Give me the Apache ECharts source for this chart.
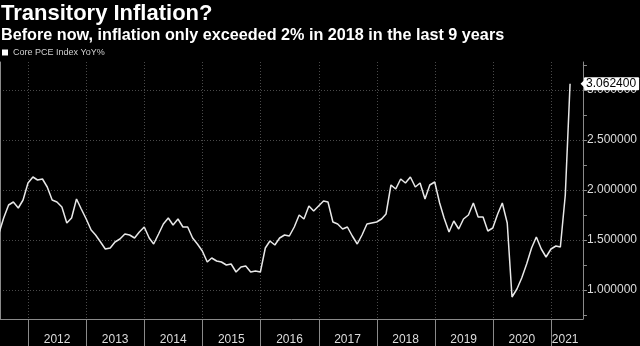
<!DOCTYPE html>
<html><head><meta charset="utf-8">
<script src="https://cdn.jsdelivr.net/npm/echarts@6/dist/echarts.min.js"></script>
<style>html,body{margin:0;padding:0;background:#000;}#c{width:640px;height:346px;}</style>
</head><body><div id="c"></div>
<script>
const titleText = 'Transitory Inflation?';
const subtitleText = 'Before now, inflation only exceeded 2% in 2018 in the last 9 years';
const seriesName = 'Core PCE Index YoY%';

// Monthly Core PCE YoY % (month-end observations)
const core2011 = [1.56, 1.72, 1.85, 1.88, 1.82, 1.90, 2.07];            // Jun–Dec
const core2012 = [2.13, 2.10, 2.11, 2.03, 1.90, 1.88, 1.83, 1.67, 1.72, 1.91, 1.81, 1.71];
const core2013 = [1.60, 1.55, 1.48, 1.41, 1.42, 1.48, 1.51, 1.56, 1.55, 1.52, 1.58, 1.63];
const core2014 = [1.52, 1.46, 1.56, 1.66, 1.72, 1.65, 1.71, 1.63, 1.63, 1.52, 1.46, 1.39];
const core2015 = [1.28, 1.32, 1.29, 1.28, 1.25, 1.26, 1.18, 1.23, 1.24, 1.18, 1.19, 1.18];
const core2016 = [1.42, 1.49, 1.45, 1.52, 1.55, 1.54, 1.63, 1.75, 1.71, 1.84, 1.79, 1.84];
const core2017 = [1.89, 1.88, 1.68, 1.66, 1.61, 1.63, 1.54, 1.46, 1.55, 1.66, 1.67, 1.68];
const core2018 = [1.71, 1.76, 2.05, 2.01, 2.11, 2.07, 2.13, 2.03, 2.07, 1.91, 2.05, 2.08];
const core2019 = [1.87, 1.72, 1.58, 1.69, 1.61, 1.71, 1.75, 1.87, 1.73, 1.73, 1.59, 1.62];
const core2020 = [1.76, 1.87, 1.67, 0.93, 1.01, 1.12, 1.26, 1.42, 1.53, 1.41, 1.33, 1.41];
const core2021 = [1.44, 1.43, 1.95, 3.0624];                              // Jan–Apr

const firstYear = 2011, firstMonth = 6;
const yearBoundaries = ['2012-01-01','2013-01-01','2014-01-01','2015-01-01','2016-01-01',
  '2017-01-01','2018-01-01','2019-01-01','2020-01-01','2021-01-01'];
const yearLabelAt = ['2012-07-01','2013-07-01','2014-07-01','2015-07-01','2016-07-01',
  '2017-07-01','2018-07-01','2019-07-01','2020-07-01','2021-03-30'];
const yMinorTicks = [0.75, 1.0, 1.25, 1.5, 1.75, 2.0, 2.25, 2.5, 2.75, 3.0, 3.25];
const xMin = '2011-07-08', xMax = '2021-07-20';
const yMin = 0.71, yMax = 3.28;

const toTs = s => Date.UTC(+s.slice(0, 4), +s.slice(5, 7) - 1, +s.slice(8, 10));
const allValues = [].concat(core2011, core2012, core2013, core2014, core2015, core2016,
  core2017, core2018, core2019, core2020, core2021);
const seriesData = allValues.map((v, i) => {
  const mIdx = firstMonth - 1 + i;
  const y = firstYear + Math.floor(mIdx / 12);
  const m = mIdx % 12 + 1;
  const last = new Date(Date.UTC(y, m, 0)).getUTCDate();
  return [Date.UTC(y, m - 1, last), v];
});
const lastPoint = seriesData[seriesData.length - 1];

const FONT = 'Liberation Sans';
const chart = echarts.init(document.getElementById('c'), null, {renderer: 'canvas'});
chart.setOption({
  backgroundColor: '#000',
  animation: false,
  textStyle: {fontFamily: FONT},
  title: {
    text: titleText, subtext: subtitleText, left: 0, top: 3, padding: [0, 0, 0, 1], itemGap: 3,
    textStyle: {color: '#fff', fontSize: 22, fontWeight: 'bold', fontFamily: FONT},
    subtextStyle: {color: '#fff', fontSize: 16.2, fontWeight: 'bold', fontFamily: FONT}
  },
  legend: {
    left: 2, top: 48, padding: 0, itemWidth: 6, itemHeight: 6, icon: 'rect',
    textStyle: {color: '#d0d0d0', fontSize: 9, fontFamily: FONT},
    data: [{name: seriesName, itemStyle: {color: '#fff'}}]
  },
  grid: {left: 0, right: 55, top: 62, bottom: 27, containLabel: false},
  xAxis: {
    type: 'value', min: toTs(xMin), max: toTs(xMax),
    axisLine: {show: true, lineStyle: {color: '#8a8a8a', width: 1}},
    axisTick: {show: true, length: 28, customValues: yearBoundaries.map(toTs), lineStyle: {color: '#8a8a8a'}},
    splitLine: {show: true, lineStyle: {color: '#4a4a4a', type: [1, 2], width: 1}},
    axisLabel: {
      customValues: yearLabelAt.map(toTs), color: '#dcdcdc', fontSize: 12, margin: 15,
      fontFamily: FONT, formatter: v => String(new Date(v).getUTCFullYear())
    }
  },
  yAxis: [{
    type: 'value', position: 'right', min: yMin, max: yMax, splitNumber: 5,
    axisLine: {show: true, lineStyle: {color: '#8a8a8a'}},
    axisTick: {show: false},
    axisLabel: {show: true, color: '#dcdcdc', fontSize: 12, margin: 4, fontFamily: FONT,
      showMinLabel: false, showMaxLabel: false, formatter: v => v.toFixed(6)},
    splitLine: {show: true, showMinLine: false, showMaxLine: false,
      lineStyle: {color: '#4a4a4a', type: [1, 2], width: 1}}
  }, {
    type: 'value', position: 'right', min: yMin, max: yMax,
    axisLine: {show: false}, axisLabel: {show: false}, splitLine: {show: false},
    axisTick: {show: true, inside: false, length: 4, customValues: yMinorTicks, lineStyle: {color: '#8a8a8a'}}
  }, {
    type: 'value', position: 'left', min: yMin, max: yMax,
    axisLine: {show: true, lineStyle: {color: '#8a8a8a'}}, axisLabel: {show: false},
    axisTick: {show: false}, splitLine: {show: false}
  }],
  series: [{
    name: seriesName, type: 'line', data: seriesData, showSymbol: false, symbol: 'none',
    lineStyle: {color: '#e8e8e8', width: 1.5}, itemStyle: {color: '#fff'},
    emphasis: {disabled: true}, silent: true,
    endLabel: {
      show: true, formatter: p => p.value[1].toFixed(6), distance: 0, offset: [14, 0],
      backgroundColor: '#fff', color: '#000', fontSize: 12, fontFamily: FONT,
      padding: [1, 3, 0, 2], borderRadius: 1
    },
    markPoint: {
      silent: true, symbol: 'triangle', symbolSize: [10, 5], symbolRotate: 90, symbolOffset: [13, 0],
      itemStyle: {color: '#fff'}, label: {show: false},
      data: [{coord: lastPoint}]
    }
  }]
});
</script></body></html>
